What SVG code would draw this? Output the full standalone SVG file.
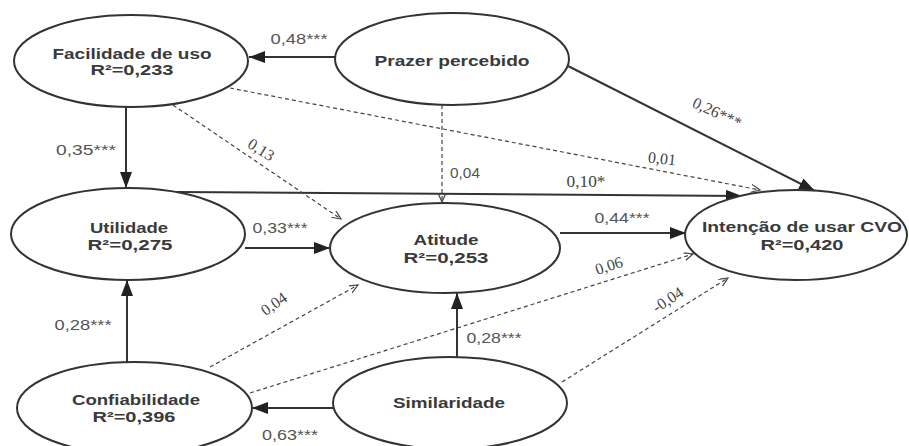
<svg xmlns="http://www.w3.org/2000/svg" width="909" height="446" viewBox="0 0 909 446">
<style>
.node ellipse{fill:#fff;stroke:#333;stroke-width:2}
.node text{font-family:"Liberation Sans",Arial,sans-serif;font-weight:bold;font-size:15px;fill:#3a3a3a;text-anchor:middle}
.solid{stroke:#333;stroke-width:2;fill:none}
.dash{stroke:#444;stroke-width:1.2;stroke-dasharray:4 3;fill:none}
.ls{font-family:"Liberation Sans",Arial,sans-serif;font-size:14px;fill:#555;text-anchor:middle}
.lr{font-family:"Liberation Serif","Times New Roman",serif;font-size:16px;fill:#444;text-anchor:middle}
</style>
<defs>
<marker id="af" markerUnits="userSpaceOnUse" markerWidth="18" markerHeight="14" refX="16" refY="6" orient="auto">
<path d="M0,0 L16,6 L0,12 z" fill="#222"/>
</marker>
<marker id="ao" markerUnits="userSpaceOnUse" markerWidth="12" markerHeight="10" refX="9" refY="4" orient="auto">
<path d="M0,0 L9,4 L0,8" fill="none" stroke="#444" stroke-width="1.2"/>
</marker>
</defs>
<rect width="909" height="446" fill="#fff"/>
<g id="connectors">
<line class="solid" x1="335" y1="57" x2="249" y2="57" marker-end="url(#af)"/>
<line class="solid" x1="126" y1="107" x2="126" y2="188" marker-end="url(#af)"/>
<line class="solid" x1="127" y1="362" x2="127" y2="280" marker-end="url(#af)"/>
<line class="solid" x1="245" y1="248" x2="330" y2="248" marker-end="url(#af)"/>
<line class="solid" x1="333" y1="408" x2="252" y2="408" marker-end="url(#af)"/>
<line class="solid" x1="457" y1="357" x2="457" y2="293" marker-end="url(#af)"/>
<line class="solid" x1="560" y1="233" x2="686" y2="233" marker-end="url(#af)"/>
<line class="solid" x1="568" y1="66" x2="815" y2="191" marker-end="url(#af)"/>
<line class="solid" x1="177" y1="192" x2="742" y2="196" marker-end="url(#af)"/>
<line class="dash" x1="230" y1="88" x2="760" y2="190" marker-end="url(#ao)"/>
<line class="dash" x1="173" y1="105" x2="341" y2="219" marker-end="url(#ao)"/>
<line class="dash" x1="442" y1="105" x2="442" y2="202" marker-end="url(#ao)"/>
<line class="dash" x1="210" y1="367" x2="358" y2="285" marker-end="url(#ao)"/>
<line class="dash" x1="250" y1="393" x2="693" y2="254" marker-end="url(#ao)"/>
<line class="dash" x1="562" y1="382" x2="728" y2="278" marker-end="url(#ao)"/>
</g>
<g id="labels">
<text class="ls" x="299" y="44" textLength="57" lengthAdjust="spacingAndGlyphs">0,48***</text>
<text class="ls" x="86" y="155" textLength="60" lengthAdjust="spacingAndGlyphs">0,35***</text>
<text class="ls" x="83" y="330" textLength="57" lengthAdjust="spacingAndGlyphs">0,28***</text>
<text class="ls" x="280" y="233" textLength="55" lengthAdjust="spacingAndGlyphs">0,33***</text>
<text class="ls" x="622" y="223" textLength="55" lengthAdjust="spacingAndGlyphs">0,44***</text>
<text class="ls" x="494" y="343" textLength="55" lengthAdjust="spacingAndGlyphs">0,28***</text>
<text class="ls" x="290" y="440" textLength="56" lengthAdjust="spacingAndGlyphs">0,63***</text>
<text class="ls" x="465" y="178" textLength="30" lengthAdjust="spacingAndGlyphs">0,04</text>
<text class="lr" x="586" y="187" textLength="39" lengthAdjust="spacingAndGlyphs">0,10*</text>
<text class="lr" transform="translate(261,150) rotate(32)" y="5">0,13</text>
<text class="lr" transform="translate(662,159) rotate(6)" y="5">0,01</text>
<text class="lr" transform="translate(717,113) rotate(25)" y="5">0,26***</text>
<text class="lr" transform="translate(274,304) rotate(-35)" y="5">0,04</text>
<text class="lr" transform="translate(609,266) rotate(-18)" y="5">0,06</text>
<text class="lr" transform="translate(668,300) rotate(-33)" y="5">-0,04</text>
</g>
<g id="facilidade" class="node">
<ellipse cx="131" cy="61" rx="117" ry="46"/>
<text x="132" y="59" textLength="159" lengthAdjust="spacingAndGlyphs">Facilidade de uso</text>
<text x="132" y="75" textLength="83" lengthAdjust="spacingAndGlyphs">R²=0,233</text>
</g>
<g id="prazer" class="node">
<ellipse cx="452" cy="59" rx="117" ry="46"/>
<text x="452" y="66" textLength="155" lengthAdjust="spacingAndGlyphs">Prazer percebido</text>
</g>
<g id="utilidade" class="node">
<ellipse cx="128" cy="234" rx="117" ry="46"/>
<text x="129" y="233" textLength="78" lengthAdjust="spacingAndGlyphs">Utilidade</text>
<text x="130" y="250" textLength="85" lengthAdjust="spacingAndGlyphs">R²=0,275</text>
</g>
<g id="atitude" class="node">
<ellipse cx="445" cy="248" rx="115" ry="45"/>
<text x="446" y="245" textLength="65" lengthAdjust="spacingAndGlyphs">Atitude</text>
<text x="446" y="263" textLength="85" lengthAdjust="spacingAndGlyphs">R²=0,253</text>
</g>
<g id="intencao" class="node">
<ellipse cx="796" cy="235" rx="111" ry="45"/>
<text x="802" y="232" textLength="200" lengthAdjust="spacingAndGlyphs">Intenção de usar CVO</text>
<text x="802" y="250" textLength="83" lengthAdjust="spacingAndGlyphs">R²=0,420</text>
</g>
<g id="confiabilidade" class="node">
<ellipse cx="134.5" cy="408" rx="117.5" ry="46"/>
<text x="136" y="405" textLength="128" lengthAdjust="spacingAndGlyphs">Confiabilidade</text>
<text x="134" y="422" textLength="83" lengthAdjust="spacingAndGlyphs">R²=0,396</text>
</g>
<g id="similaridade" class="node">
<ellipse cx="450" cy="403" rx="117" ry="46"/>
<text x="449" y="408" textLength="112" lengthAdjust="spacingAndGlyphs">Similaridade</text>
</g>
</svg>
